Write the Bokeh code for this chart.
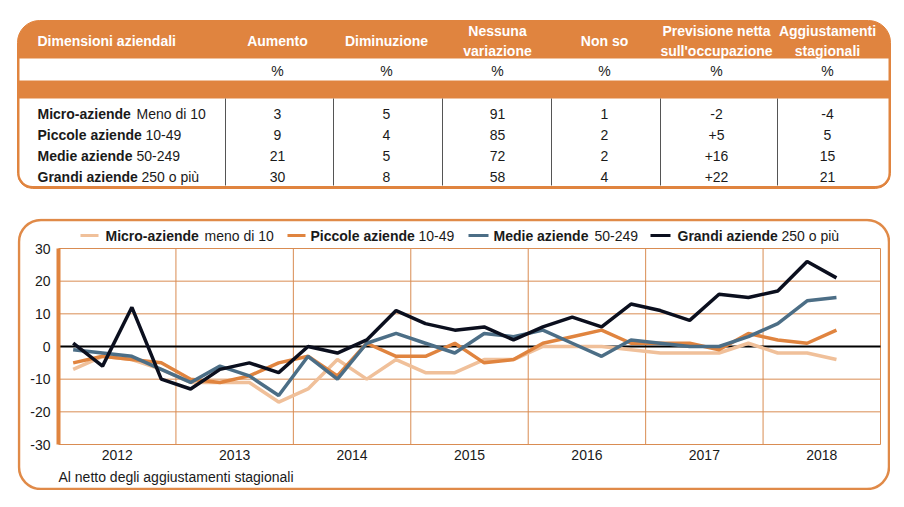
from bokeh.plotting import figure
from bokeh.models import Range1d, FixedTicker, BoxAnnotation, Spacer, LinearAxis
from bokeh.layouts import column, row
from bokeh.embed import file_html
from bokeh.resources import INLINE
from bokeh.core.properties import value

# ---------------- data ----------------
col_headers = ["Dimensioni aziendali", "Aumento", "Diminuzione", "Nessuna\nvariazione",
               "Non so", "Previsione netta\nsull'occupazione", "Aggiustamenti\nstagionali"]
unit_row = ["%", "%", "%", "%", "%", "%"]
size_bold = ["Micro-aziende", "Piccole aziende", "Medie aziende", "Grandi aziende"]
size_rest = ["Meno di 10", "10-49", "50-249", "250 o più"]
aumento = ["3", "9", "21", "30"]
diminuzione = ["5", "4", "5", "8"]
nessuna = ["91", "85", "72", "58"]
non_so = ["1", "2", "2", "4"]
previsione = ["-2", "+5", "+16", "+22"]
aggiustamenti = ["-4", "5", "15", "21"]

periods = ["2012 T1", "2012 T2", "2012 T3", "2012 T4",
           "2013 T1", "2013 T2", "2013 T3", "2013 T4",
           "2014 T1", "2014 T2", "2014 T3", "2014 T4",
           "2015 T1", "2015 T2", "2015 T3", "2015 T4",
           "2016 T1", "2016 T2", "2016 T3", "2016 T4",
           "2017 T1", "2017 T2", "2017 T3", "2017 T4",
           "2018 T1", "2018 T2", "2018 T3"]
micro = [-7, -3, -4, -7, -11, -11, -11, -17, -13, -4, -10, -4, -8, -8, -4, -4,
         0, 0, 0, -1, -2, -2, -2, 1, -2, -2, -4]
piccole = [-5, -3, -4, -5, -10, -11, -9, -5, -3, -9, 1, -3, -3, 1, -5, -4,
           1, 3, 5, 1, 1, 1, -1, 4, 2, 1, 5]
medie = [-1, -2, -3, -7, -11, -6, -9, -15, -3, -10, 1, 4, 1, -2, 4, 3,
         5, 1, -3, 2, 1, 0, 0, 3, 7, 14, 15]
grandi = [1, -6, 12, -10, -13, -7, -5, -8, 0, -2, 2, 11, 7, 5, 6, 2,
          6, 9, 6, 13, 11, 8, 16, 15, 17, 26, 21]
legend_bold = ["Micro-aziende", "Piccole aziende", "Medie aziende", "Grandi aziende"]
legend_rest = ["meno di 10", "10-49", "50-249", "250 o più"]
year_labels = ["2012", "2013", "2014", "2015", "2016", "2017", "2018"]
y_ticks = [-30, -20, -10, 0, 10, 20, 30]
footnote = "Al netto degli aggiustamenti stagionali"

# ---------------- styles ----------------
FONT = "Liberation Sans"
ORANGE = "#e0843f"
BOX = "#e08a48"
GRID = "#d98c52"
TXT = "#1a1a1a"
colors = ["#f0c09a", "#e0843f", "#4c6e86", "#0b0f1e"]


def no_align(fig):
    try:
        fig.frame_align = False
    except Exception:
        pass


# ---------------- table figure ----------------
WT, HT = 900, 218
def Y(v):
    return HT - v

t = figure(width=WT, height=HT, x_range=Range1d(0, WT), y_range=Range1d(0, HT),
           output_backend="svg", toolbar_location=None, min_border=0,
           x_axis_location=None, y_axis_location=None)
no_align(t)
t.grid.visible = False
t.outline_line_color = None

t.add_layout(BoxAnnotation(left=17, right=890, top=Y(20), bottom=Y(188),
                           fill_color=ORANGE, fill_alpha=1, line_color=ORANGE,
                           line_alpha=1, line_width=1, border_radius=(22, 22, 15, 15),
                           level="underlay"))
t.add_layout(BoxAnnotation(left=19, right=888, top=Y(58), bottom=Y(80),
                           fill_color="white", fill_alpha=1, line_color=None, level="underlay"))
t.add_layout(BoxAnnotation(left=19, right=888, top=Y(98), bottom=Y(185.5),
                           fill_color="white", fill_alpha=1, line_color=None,
                           border_radius=(0, 0, 13, 13), level="underlay"))

sep_x = [225, 333, 442, 551, 660, 777]
t.segment(x0=sep_x, y0=[Y(98)] * 6, x1=sep_x, y1=[Y(185)] * 6,
          line_color="#555555", line_width=1)

col_cx = [277, 386, 497, 604, 716, 827]
t.text(x=[37], y=[Y(40)], text=[col_headers[0]], text_font=value(FONT),
       text_font_size="14px", text_font_style="bold", text_color="white",
       text_align="left", text_baseline="middle")
t.text(x=col_cx, y=[Y(40)] * 6, text=col_headers[1:], text_font=value(FONT),
       text_font_size="14px", text_font_style="bold", text_color="white",
       text_align="center", text_baseline="middle", text_line_height=1.25)
t.text(x=col_cx, y=[Y(70)] * 6, text=unit_row, text_font=value(FONT),
       text_font_size="14px", text_color=TXT, text_align="center", text_baseline="middle")
row_y = [Y(113), Y(134), Y(155), Y(176)]
rest_x = [136, 145, 136, 141]
t.text(x=[37] * 4, y=row_y, text=size_bold, text_font=value(FONT),
       text_font_size="14px", text_font_style="bold", text_color=TXT,
       text_align="left", text_baseline="middle")
t.text(x=rest_x, y=row_y, text=size_rest, text_font=value(FONT),
       text_font_size="14px", text_color=TXT, text_align="left", text_baseline="middle")
for cx, vals in zip(col_cx, [aumento, diminuzione, nessuna, non_so, previsione, aggiustamenti]):
    t.text(x=[cx] * 4, y=row_y, text=vals, text_font=value(FONT),
           text_font_size="14px", text_color=TXT, text_align="center", text_baseline="middle")

# ---------------- chart figure ----------------
# page-pixel layout of the chart box and the plot area
BX0, BX1, BY0, BY1 = 17, 890, 218, 490
PL, PR, PT, PB = 58, 880, 248, 444
PX_YEAR = (PR - PL) / 7.0
PX_UNIT = (PB - PT) / 60.0
X0_DATA = 2011.5

def X(px):
    return X0_DATA + (px - PL) / PX_YEAR

def YD(py):
    return 30 - (py - PT) / PX_UNIT

p = figure(width=BX1 - BX0, height=BY1 - BY0,
           x_range=Range1d(X(BX0), X(BX1)), y_range=Range1d(YD(BY1), YD(BY0)),
           output_backend="svg", toolbar_location=None, min_border=0,
           x_axis_location=None, y_axis_location=None)
no_align(p)
p.grid.visible = False
p.outline_line_color = None

# rounded outer box
p.add_layout(BoxAnnotation(left=X(BX0 + 1.5), right=X(BX1 - 1.5),
                           top=YD(BY0 + 1.5), bottom=YD(BY1 - 1.5),
                           fill_color=None, fill_alpha=0, line_color=BOX, line_alpha=1,
                           line_width=2.5, border_radius=22, level="underlay"))

xs = [int(s.split()[0]) - 0.5 + (int(s.split()[1][1]) - 0.5) / 4 for s in periods]
x_lo, x_hi = int(year_labels[0]) - 0.5, int(year_labels[-1]) + 0.5

# grid
vx = [int(y) + 0.5 for y in year_labels]
p.segment(x0=vx, y0=[y_ticks[0]] * len(vx), x1=vx, y1=[y_ticks[-1]] * len(vx),
          line_color=GRID, line_width=1)
hy = [v for v in y_ticks if v != 0]
p.segment(x0=[x_lo] * len(hy), y0=hy, x1=[x_hi] * len(hy), y1=hy,
          line_color=GRID, line_width=1)
p.segment(x0=[x_lo], y0=[0], x1=[x_hi], y1=[0], line_color="black", line_width=2)

for ys, c in zip([micro, piccole, medie, grandi], colors):
    p.line(xs, ys, line_color=c, line_width=3.5)

yax = LinearAxis(fixed_location=x_lo, ticker=FixedTicker(ticks=y_ticks), bounds=(-30, 30))
yax.major_label_overrides = {v: str(v) for v in y_ticks}
yax.axis_line_color = ORANGE
yax.axis_line_width = 4
yax.major_tick_line_color = None
yax.minor_tick_line_color = None
yax.major_tick_out = 0
yax.major_tick_in = 0
yax.major_label_standoff = 8
xax = LinearAxis(fixed_location=-30, ticker=FixedTicker(ticks=[int(y) for y in year_labels]))
xax.major_label_overrides = {int(y): y for y in year_labels}
xax.axis_line_color = None
xax.major_tick_line_color = None
xax.minor_tick_line_color = None
xax.major_tick_out = 0
xax.major_tick_in = 0
xax.major_label_standoff = 5
for ax in (xax, yax):
    ax.major_label_text_font = FONT
    ax.major_label_text_font_size = "14px"
    ax.major_label_text_color = TXT
p.add_layout(yax, "left")
p.add_layout(xax, "below")

# legend
leg_sw = [(80, 98), (287, 305), (468, 488), (650, 670)]
leg_bx = [105, 310, 493, 677]
leg_rx = [204, 418, 594, 781]
LY = 235
p.segment(x0=[X(a) for a, b in leg_sw], y0=[YD(LY)] * 4,
          x1=[X(b) for a, b in leg_sw], y1=[YD(LY)] * 4,
          line_color=colors, line_width=3)
p.text(x=[X(v) for v in leg_bx], y=[YD(LY)] * 4, text=legend_bold,
       text_font=value(FONT), text_font_size="14px", text_font_style="bold",
       text_color=TXT, text_baseline="middle", text_align="left")
p.text(x=[X(v) for v in leg_rx], y=[YD(LY)] * 4, text=legend_rest,
       text_font=value(FONT), text_font_size="14px",
       text_color=TXT, text_baseline="middle", text_align="left")

# footnote
p.text(x=[X(58)], y=[YD(476)], text=[footnote], text_font=value(FONT),
       text_font_size="14px", text_color=TXT, text_baseline="middle", text_align="left")

layout = column(t, row(Spacer(width=BX0, height=BY1 - BY0), p, spacing=0), spacing=0)
open("out.html", "w").write(file_html(layout, INLINE))
